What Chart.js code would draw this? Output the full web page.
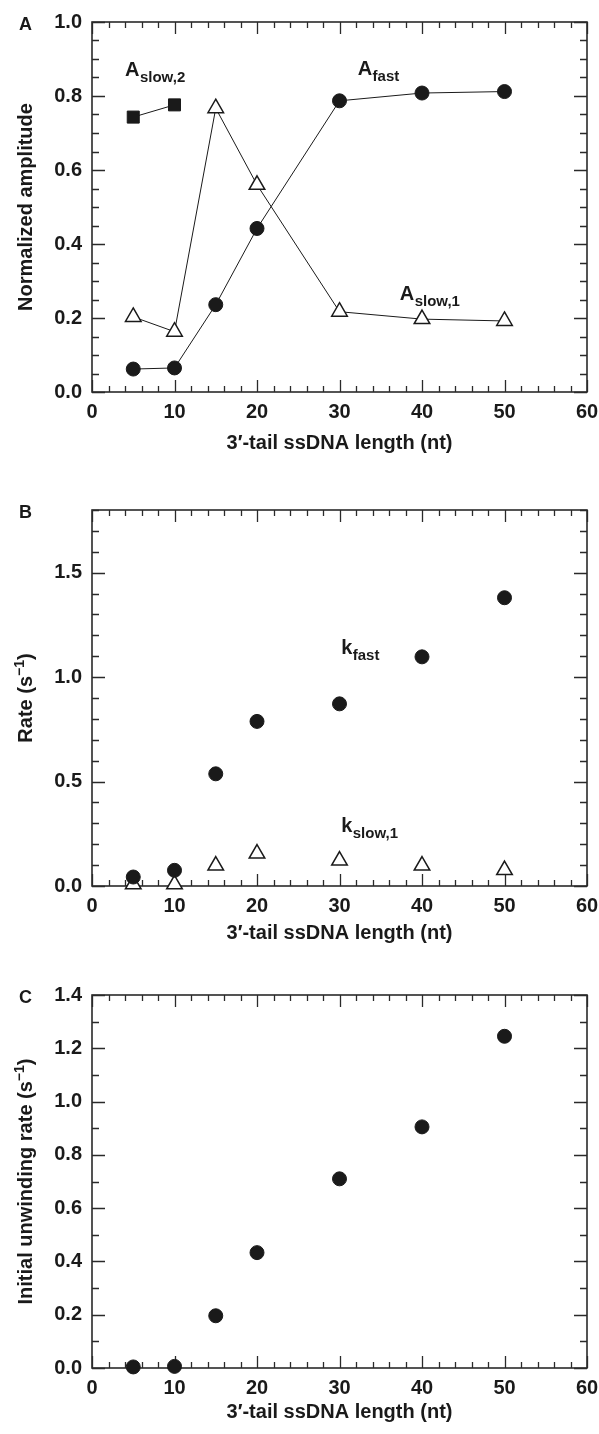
<!DOCTYPE html>
<html>
<head>
<meta charset="utf-8">
<script src="https://cdn.jsdelivr.net/npm/chart.js@4"></script>
<style>
  html, body { margin: 0; padding: 0; background: #fff; overflow: hidden; }
  #wrap { position: relative; width: 599px; height: 1434px; }
  .panel { position: absolute; left: 0; width: 599px; }
</style>
</head>
<body>
<div id="wrap">
  <div class="panel" style="top:0px;height:465px"><canvas id="chartA"></canvas></div>
  <div class="panel" style="top:488px;height:467px"><canvas id="chartB"></canvas></div>
  <div class="panel" style="top:973px;height:461px"><canvas id="chartC"></canvas></div>
</div>
<script>
// values
const lengths = [5, 10, 15, 20, 30, 40, 50];
const aFast = [0.062, 0.065, 0.236, 0.442, 0.787, 0.808, 0.812];
const aSlow1 = [0.203, 0.163, 0.767, 0.560, 0.217, 0.197, 0.192];
const aSlow2Lengths = [5, 10];
const aSlow2 = [0.743, 0.776];
const kFast = [0.043, 0.075, 0.537, 0.788, 0.872, 1.097, 1.38];
const kSlow1 = [0.008, 0.008, 0.098, 0.155, 0.122, 0.098, 0.076];
const unwindRate = [0.004, 0.006, 0.196, 0.433, 0.71, 0.905, 1.245];

const xTicks = [0, 10, 20, 30, 40, 50, 60];
const yTicksA = [0, 0.2, 0.4, 0.6, 0.8, 1.0];
const yTicksB = [0, 0.5, 1.0, 1.5];
const yTicksC = [0, 0.2, 0.4, 0.6, 0.8, 1.0, 1.2, 1.4];

const FONT = '"Liberation Sans", Arial, Helvetica, sans-serif';
const INK = '#1a1a1a';

const pts = (xs, ys) => xs.map((v, i) => ({ x: v, y: ys[i] }));

const circles = (data, line) => ({
  data, showLine: line, borderColor: INK, borderWidth: 1,
  pointStyle: 'circle', pointRadius: 7, pointBackgroundColor: INK,
  pointBorderColor: INK, pointBorderWidth: 1, clip: false
});
const triangles = (data, line) => ({
  data, showLine: line, borderColor: INK, borderWidth: 1,
  pointStyle: 'triangle', pointRadius: 9, pointBackgroundColor: '#fff',
  pointBorderColor: INK, pointBorderWidth: 1.5, clip: false
});
const squares = (data, line) => ({
  data, showLine: line, borderColor: INK, borderWidth: 1,
  pointStyle: 'rect', pointRadius: 8.5, pointBackgroundColor: INK,
  pointBorderColor: INK, pointBorderWidth: 1, clip: false
});

// frame, inward ticks, y title, panel letter and in-plot labels
const decor = {
  id: 'decor',
  beforeDatasetsDraw(chart, args, o) {
    const { ctx, chartArea: a, scales: { x, y } } = chart;
    ctx.save();
    ctx.strokeStyle = '#2a2a2a';
    ctx.lineWidth = 1.6;
    ctx.strokeRect(a.left, a.top, a.right - a.left, a.bottom - a.top);
    ctx.lineWidth = 1.3;
    ctx.beginPath();
    const isMul = (v, m) => Math.abs(v / m - Math.round(v / m)) < 1e-6;
    for (let v = x.min; v <= x.max + 1e-9; v += o.xMinor) {
      const px = Math.round(x.getPixelForValue(v)) + 0.5;
      const len = isMul(v, o.xMajor) ? 12 : 6;
      ctx.moveTo(px, a.bottom); ctx.lineTo(px, a.bottom - len);
      ctx.moveTo(px, a.top); ctx.lineTo(px, a.top + len);
    }
    for (let v = y.min; v <= y.max + 1e-9; v += o.yMinor) {
      const py = Math.round(y.getPixelForValue(v)) + 0.5;
      const len = isMul(v, o.yMajor) ? 13 : 7;
      ctx.moveTo(a.left, py); ctx.lineTo(a.left + len, py);
      ctx.moveTo(a.right, py); ctx.lineTo(a.right - len, py);
    }
    ctx.stroke();
    ctx.restore();
  },
  afterDatasetsDraw(chart, args, o) {
    const { ctx, chartArea: a, scales: { x, y } } = chart;
    ctx.save();
    ctx.fillStyle = INK;
    // panel letter
    ctx.font = 'bold 18px ' + FONT;
    ctx.textBaseline = 'middle';
    ctx.fillText(o.letter, 19, a.top + 3);
    // y-axis title, rotated, may carry a superscript
    ctx.save();
    ctx.translate(32, (a.top + a.bottom) / 2);
    ctx.rotate(-Math.PI / 2);
    ctx.textBaseline = 'alphabetic';
    const parts = o.yTitle;
    let total = 0;
    parts.forEach(p => {
      ctx.font = 'bold ' + (p.sup ? 14 : 20) + 'px ' + FONT;
      total += ctx.measureText(p.t).width;
    });
    let cx = -total / 2;
    parts.forEach(p => {
      ctx.font = 'bold ' + (p.sup ? 14 : 20) + 'px ' + FONT;
      ctx.fillText(p.t, cx, p.sup ? -8 : 0);
      cx += ctx.measureText(p.t).width;
    });
    ctx.restore();
    // curve labels with subscripts
    (o.labels || []).forEach(l => {
      const px = x.getPixelForValue(l.x);
      const py = y.getPixelForValue(l.y);
      ctx.textBaseline = 'alphabetic';
      ctx.font = 'bold 20px ' + FONT;
      ctx.fillText(l.main, px, py);
      const w = ctx.measureText(l.main).width;
      ctx.font = 'bold 15px ' + FONT;
      ctx.fillText(l.sub, px + w + 0.5, py + 6);
    });
    ctx.restore();
  }
};

function makeChart(id, datasets, yMax, yTicks, xHeight, decorOpts) {
  const tickFont = { family: FONT, size: 20, weight: 'bold' };
  return new Chart(document.getElementById(id), {
    type: 'scatter',
    data: { datasets },
    plugins: [decor],
    options: {
      responsive: true,
      maintainAspectRatio: false,
      animation: false,
      events: [],
      layout: { padding: { top: 20, right: 12, left: 0, bottom: 0 } },
      plugins: { legend: { display: false }, tooltip: { enabled: false }, decor: decorOpts },
      scales: {
        x: {
          type: 'linear', min: 0, max: 60,
          afterBuildTicks: s => { s.ticks = xTicks.map(v => ({ value: v })); },
          afterFit: s => { s.height = xHeight; s.paddingLeft = 0; s.paddingRight = 0; },
          grid: { display: false, drawTicks: false },
          border: { display: false },
          ticks: { font: tickFont, color: INK, padding: 8, maxRotation: 0, autoSkip: false },
          title: {
            display: true, text: '3′-tail ssDNA length (nt)', color: INK,
            font: { family: FONT, size: 20, weight: 'bold' }, padding: { top: 0, bottom: 10 }
          }
        },
        y: {
          type: 'linear', min: 0, max: yMax,
          afterBuildTicks: s => { s.ticks = yTicks.map(v => ({ value: v })); },
          afterFit: s => { s.width = 92; },
          grid: { display: false, drawTicks: false },
          border: { display: false },
          ticks: { font: tickFont, color: INK, padding: 10, autoSkip: false,
                   callback: v => Number(v).toFixed(1) }
        }
      }
    }
  });
}

makeChart('chartA', [
  circles(pts(lengths, aFast), true),
  triangles(pts(lengths, aSlow1), true),
  squares(pts(aSlow2Lengths, aSlow2), true)
], 1.0, yTicksA, 73, {
  letter: 'A', xMinor: 2, xMajor: 10, yMinor: 0.05, yMajor: 0.2,
  yTitle: [{ t: 'Normalized amplitude' }],
  labels: [
    { x: 4.0, y: 0.855, main: 'A', sub: 'slow,2' },
    { x: 32.2, y: 0.858, main: 'A', sub: 'fast' },
    { x: 37.3, y: 0.25, main: 'A', sub: 'slow,1' }
  ]
});

makeChart('chartB', [
  circles(pts(lengths, kFast), false),
  triangles(pts(lengths, kSlow1), false)
], 1.8, yTicksB, 69, {
  letter: 'B', xMinor: 2, xMajor: 10, yMinor: 0.1, yMajor: 0.5,
  yTitle: [{ t: 'Rate (s' }, { t: '−1', sup: true }, { t: ')' }],
  labels: [
    { x: 30.2, y: 1.11, main: 'k', sub: 'fast' },
    { x: 30.2, y: 0.26, main: 'k', sub: 'slow,1' }
  ]
});

makeChart('chartC', [
  circles(pts(lengths, unwindRate), false)
], 1.4, yTicksC, 66, {
  letter: 'C', xMinor: 2, xMajor: 10, yMinor: 0.1, yMajor: 0.2,
  yTitle: [{ t: 'Initial unwinding rate (s' }, { t: '−1', sup: true }, { t: ')' }]
});
</script>
</body>
</html>
